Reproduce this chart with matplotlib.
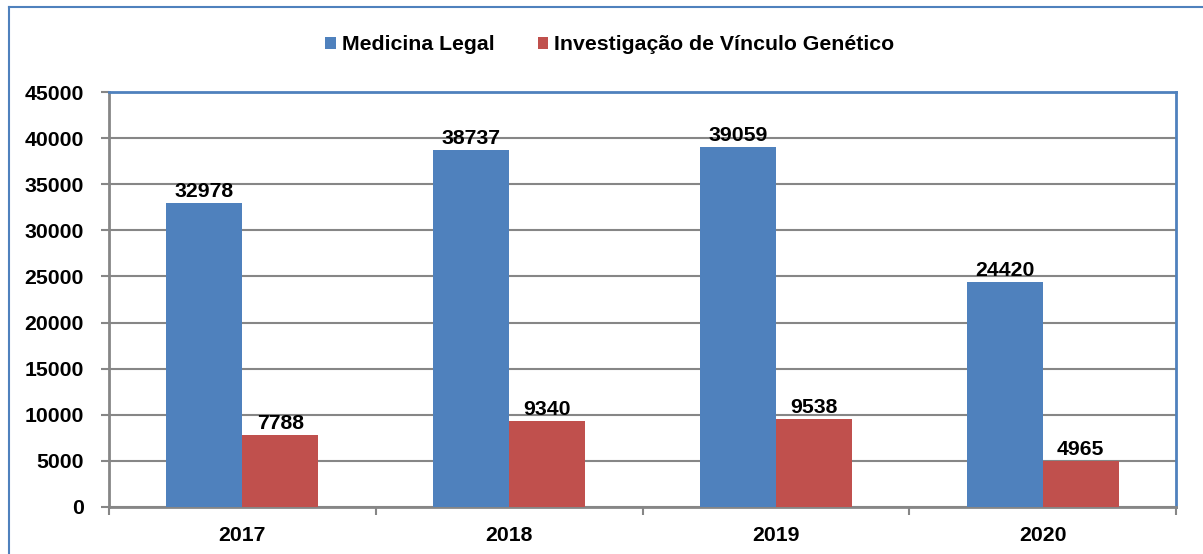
import matplotlib
matplotlib.use("Agg")
import matplotlib.pyplot as plt
from matplotlib.lines import Line2D
import numpy as np

years = ["2017", "2018", "2019", "2020"]
medicina_legal = [32978, 38737, 39059, 24420]
vinculo_genetico = [7788, 9340, 9538, 4965]
series_names = ["Medicina Legal", "Investigação de Vínculo Genético"]

BLUE = "#4F81BD"
RED = "#C0504D"
GRID = "#868686"

plt.rcParams["font.family"] = ["Liberation Sans", "DejaVu Sans"]
plt.rcParams["font.weight"] = "bold"

fig = plt.figure(figsize=(12.03, 5.54), dpi=100)
W, H = 1203, 554
ax = fig.add_axes([109 / W, 1 - 507 / H, (1176 - 109) / W, (507 - 92) / H])

x = np.arange(len(years))
bw = 0.285
b1 = ax.bar(x - bw / 2, medicina_legal, bw, color=BLUE, label=series_names[0], zorder=3)
b2 = ax.bar(x + bw / 2, vinculo_genetico, bw, color=RED, label=series_names[1], zorder=3)

for bars, vals in ((b1, medicina_legal), (b2, vinculo_genetico)):
    for rect, v in zip(bars, vals):
        ax.text(rect.get_x() + rect.get_width() / 2, v + 200, str(v),
                ha="center", va="bottom", fontsize=15.3, fontweight="bold", zorder=4)

ax.set_xlim(-0.5, len(years) - 0.5)
ax.set_ylim(0, 45000)
ax.set_yticks(range(0, 45001, 5000))
ax.yaxis.grid(True, color=GRID, linewidth=1.5, zorder=0)
ax.set_axisbelow(True)

ax.set_xticks(x)
ax.set_xticklabels(years)
ax.set_xticks(np.arange(-0.5, len(years), 1), minor=True)
ax.tick_params(axis="x", which="major", length=0, pad=14, labelsize=15.3)
ax.tick_params(axis="x", which="minor", length=6, width=1.5, color=GRID)
ax.tick_params(axis="y", length=6, width=1.5, color=GRID, pad=12, labelsize=15.3)

for side in ("left", "bottom"):
    ax.spines[side].set_color(GRID)
    ax.spines[side].set_linewidth(2)
for side in ("top", "right"):
    ax.spines[side].set_color(BLUE)
    ax.spines[side].set_linewidth(2)

ax.legend(loc="center", bbox_to_anchor=(610 / W, 1 - 45 / H),
          bbox_transform=fig.transFigure, ncol=2, frameon=False,
          fontsize=15.3, handlelength=0.5, handleheight=0.5,
          handletextpad=0.3, columnspacing=2.0)

# outer chart frame (top and left edges visible)
fig.add_artist(Line2D([9 / W, 1.0], [1 - 7 / H, 1 - 7 / H], color=BLUE, linewidth=1.5))
fig.add_artist(Line2D([9 / W, 9 / W], [0.0, 1 - 7 / H], color=BLUE, linewidth=1.5))

fig.savefig("out.png", dpi=100)
